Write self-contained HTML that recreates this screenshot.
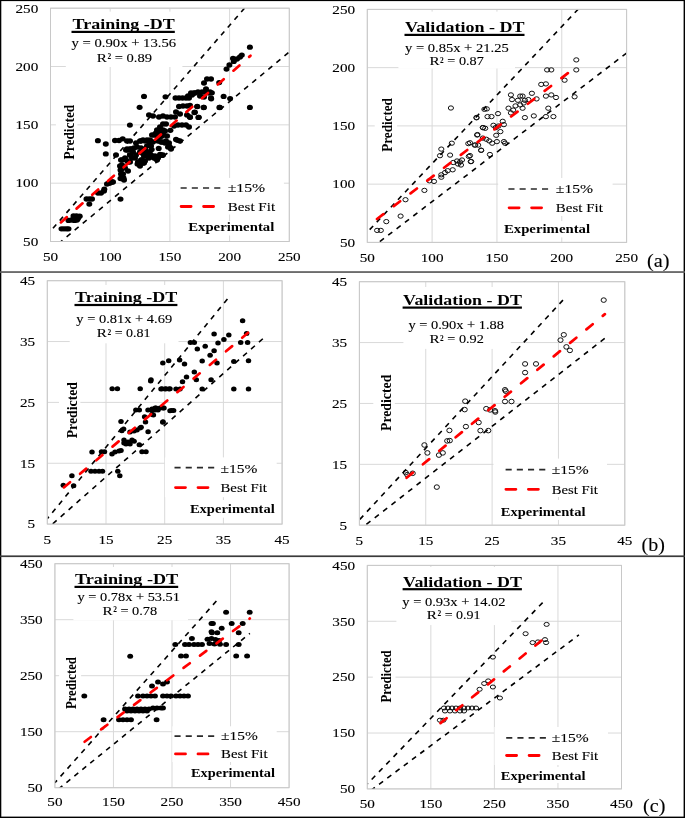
<!DOCTYPE html>
<html><head><meta charset="utf-8"><title>DT scatter</title>
<style>html,body{margin:0;padding:0;background:#fff;width:685px;height:818px;overflow:hidden} svg{display:block;will-change:transform}</style>
</head><body>
<svg width="685" height="818" viewBox="0 0 685 818" font-family='"Liberation Serif", serif'>
<rect x="0" y="0" width="685" height="818" fill="#fff"/>
<defs>
<clipPath id="clipaL"><rect x="50.5" y="8.2" width="238.8" height="233.3"/></clipPath>
<clipPath id="clipaR"><rect x="367.3" y="9.4" width="259.3" height="233.0"/></clipPath>
<clipPath id="clipbL"><rect x="47.3" y="280.7" width="234.8" height="243.40000000000003"/></clipPath>
<clipPath id="clipbR"><rect x="359.4" y="281.7" width="265.4" height="243.50000000000006"/></clipPath>
<clipPath id="clipcL"><rect x="54.9" y="563.7" width="234.20000000000002" height="224.0"/></clipPath>
<clipPath id="clipcR"><rect x="367.3" y="565.4" width="254.2" height="223.5"/></clipPath>
</defs>
<line x1="50.50" y1="8.2" x2="50.50" y2="241.5" stroke="#d9d9d9" stroke-width="1"/>
<line x1="110.20" y1="8.2" x2="110.20" y2="241.5" stroke="#d9d9d9" stroke-width="1"/>
<line x1="169.90" y1="8.2" x2="169.90" y2="241.5" stroke="#d9d9d9" stroke-width="1"/>
<line x1="229.60" y1="8.2" x2="229.60" y2="241.5" stroke="#d9d9d9" stroke-width="1"/>
<line x1="289.30" y1="8.2" x2="289.30" y2="241.5" stroke="#d9d9d9" stroke-width="1"/>
<line x1="50.5" y1="241.50" x2="289.3" y2="241.50" stroke="#d9d9d9" stroke-width="1"/>
<line x1="50.5" y1="183.18" x2="289.3" y2="183.18" stroke="#d9d9d9" stroke-width="1"/>
<line x1="50.5" y1="124.85" x2="289.3" y2="124.85" stroke="#d9d9d9" stroke-width="1"/>
<line x1="50.5" y1="66.53" x2="289.3" y2="66.53" stroke="#d9d9d9" stroke-width="1"/>
<line x1="50.5" y1="8.20" x2="289.3" y2="8.20" stroke="#d9d9d9" stroke-width="1"/>
<rect x="65.8" y="11.6" width="116.60000000000001" height="55.4" fill="#fff"/>
<rect x="55.9" y="100" width="21.500000000000007" height="63" fill="#fff"/>
<rect x="170.6" y="177.9" width="113.29999999999998" height="36.599999999999994" fill="#fff"/>
<rect x="185" y="221" width="95" height="14.5" fill="#fff"/>
<g clip-path="url(#clipaL)">
<ellipse cx="61.5" cy="228.8" rx="3.0" ry="2.65" fill="#000"/>
<ellipse cx="64" cy="228.8" rx="3.0" ry="2.65" fill="#000"/>
<ellipse cx="66.5" cy="228.8" rx="3.0" ry="2.65" fill="#000"/>
<ellipse cx="68.5" cy="228.8" rx="3.0" ry="2.65" fill="#000"/>
<ellipse cx="68.5" cy="220.4" rx="3.0" ry="2.65" fill="#000"/>
<ellipse cx="71.5" cy="220" rx="3.0" ry="2.65" fill="#000"/>
<ellipse cx="74.5" cy="220.4" rx="3.0" ry="2.65" fill="#000"/>
<ellipse cx="77" cy="220" rx="3.0" ry="2.65" fill="#000"/>
<ellipse cx="73.5" cy="216" rx="3.0" ry="2.65" fill="#000"/>
<ellipse cx="76.5" cy="216" rx="3.0" ry="2.65" fill="#000"/>
<ellipse cx="79.7" cy="216.2" rx="3.0" ry="2.65" fill="#000"/>
<ellipse cx="78" cy="218.5" rx="3.0" ry="2.65" fill="#000"/>
<ellipse cx="86.5" cy="199" rx="3.0" ry="2.65" fill="#000"/>
<ellipse cx="89.5" cy="199" rx="3.0" ry="2.65" fill="#000"/>
<ellipse cx="92" cy="199" rx="3.0" ry="2.65" fill="#000"/>
<ellipse cx="89.3" cy="204.1" rx="3.0" ry="2.65" fill="#000"/>
<ellipse cx="98" cy="193" rx="3.0" ry="2.65" fill="#000"/>
<ellipse cx="101" cy="193" rx="3.0" ry="2.65" fill="#000"/>
<ellipse cx="104" cy="191" rx="3.0" ry="2.65" fill="#000"/>
<ellipse cx="104.3" cy="189.2" rx="3.0" ry="2.65" fill="#000"/>
<ellipse cx="107" cy="184" rx="3.0" ry="2.65" fill="#000"/>
<ellipse cx="110" cy="183" rx="3.0" ry="2.65" fill="#000"/>
<ellipse cx="113" cy="182" rx="3.0" ry="2.65" fill="#000"/>
<ellipse cx="109" cy="183" rx="3.0" ry="2.65" fill="#000"/>
<ellipse cx="112" cy="182" rx="3.0" ry="2.65" fill="#000"/>
<ellipse cx="120.5" cy="199.1" rx="3.0" ry="2.65" fill="#000"/>
<ellipse cx="120.5" cy="178.5" rx="3.0" ry="2.65" fill="#000"/>
<ellipse cx="123.5" cy="178" rx="3.0" ry="2.65" fill="#000"/>
<ellipse cx="120" cy="166" rx="3.0" ry="2.65" fill="#000"/>
<ellipse cx="120.5" cy="170" rx="3.0" ry="2.65" fill="#000"/>
<ellipse cx="121" cy="174" rx="3.0" ry="2.65" fill="#000"/>
<ellipse cx="121" cy="160" rx="3.0" ry="2.65" fill="#000"/>
<ellipse cx="122" cy="165" rx="3.0" ry="2.65" fill="#000"/>
<ellipse cx="121" cy="170" rx="3.0" ry="2.65" fill="#000"/>
<ellipse cx="123" cy="174" rx="3.0" ry="2.65" fill="#000"/>
<ellipse cx="124" cy="180" rx="3.0" ry="2.65" fill="#000"/>
<ellipse cx="122" cy="160" rx="3.0" ry="2.65" fill="#000"/>
<ellipse cx="125" cy="158" rx="3.0" ry="2.65" fill="#000"/>
<ellipse cx="128" cy="162" rx="3.0" ry="2.65" fill="#000"/>
<ellipse cx="127.5" cy="150" rx="3.0" ry="2.65" fill="#000"/>
<ellipse cx="130" cy="155" rx="3.0" ry="2.65" fill="#000"/>
<ellipse cx="126" cy="150" rx="3.0" ry="2.65" fill="#000"/>
<ellipse cx="130" cy="149" rx="3.0" ry="2.65" fill="#000"/>
<ellipse cx="134" cy="148" rx="3.0" ry="2.65" fill="#000"/>
<ellipse cx="135" cy="158" rx="3.0" ry="2.65" fill="#000"/>
<ellipse cx="138" cy="163" rx="3.0" ry="2.65" fill="#000"/>
<ellipse cx="142" cy="160" rx="3.0" ry="2.65" fill="#000"/>
<ellipse cx="144" cy="163" rx="3.0" ry="2.65" fill="#000"/>
<ellipse cx="137.5" cy="164" rx="3.0" ry="2.65" fill="#000"/>
<ellipse cx="136" cy="143" rx="3.0" ry="2.65" fill="#000"/>
<ellipse cx="140" cy="141" rx="3.0" ry="2.65" fill="#000"/>
<ellipse cx="143" cy="140" rx="3.0" ry="2.65" fill="#000"/>
<ellipse cx="147" cy="140" rx="3.0" ry="2.65" fill="#000"/>
<ellipse cx="150" cy="140" rx="3.0" ry="2.65" fill="#000"/>
<ellipse cx="148" cy="152" rx="3.0" ry="2.65" fill="#000"/>
<ellipse cx="151" cy="155" rx="3.0" ry="2.65" fill="#000"/>
<ellipse cx="155" cy="156" rx="3.0" ry="2.65" fill="#000"/>
<ellipse cx="158" cy="158" rx="3.0" ry="2.65" fill="#000"/>
<ellipse cx="149" cy="158" rx="3.0" ry="2.65" fill="#000"/>
<ellipse cx="160" cy="154.5" rx="3.0" ry="2.65" fill="#000"/>
<ellipse cx="163" cy="155" rx="3.0" ry="2.65" fill="#000"/>
<ellipse cx="97.9" cy="140.7" rx="3.0" ry="2.65" fill="#000"/>
<ellipse cx="105.8" cy="144" rx="3.0" ry="2.65" fill="#000"/>
<ellipse cx="105.8" cy="153.9" rx="3.0" ry="2.65" fill="#000"/>
<ellipse cx="116" cy="155" rx="3.0" ry="2.65" fill="#000"/>
<ellipse cx="129.9" cy="125.1" rx="3.0" ry="2.65" fill="#000"/>
<ellipse cx="139.6" cy="107.3" rx="3.0" ry="2.65" fill="#000"/>
<ellipse cx="144.0" cy="96.4" rx="3.0" ry="2.65" fill="#000"/>
<ellipse cx="165.5" cy="96.8" rx="3.0" ry="2.65" fill="#000"/>
<ellipse cx="115" cy="140.5" rx="3.0" ry="2.65" fill="#000"/>
<ellipse cx="119" cy="140.5" rx="3.0" ry="2.65" fill="#000"/>
<ellipse cx="122.7" cy="138.8" rx="3.0" ry="2.65" fill="#000"/>
<ellipse cx="127" cy="141" rx="3.0" ry="2.65" fill="#000"/>
<ellipse cx="130" cy="141" rx="3.0" ry="2.65" fill="#000"/>
<ellipse cx="149" cy="115" rx="3.0" ry="2.65" fill="#000"/>
<ellipse cx="153" cy="116" rx="3.0" ry="2.65" fill="#000"/>
<ellipse cx="159" cy="117" rx="3.0" ry="2.65" fill="#000"/>
<ellipse cx="163" cy="116" rx="3.0" ry="2.65" fill="#000"/>
<ellipse cx="167" cy="117" rx="3.0" ry="2.65" fill="#000"/>
<ellipse cx="171" cy="117" rx="3.0" ry="2.65" fill="#000"/>
<ellipse cx="175" cy="117" rx="3.0" ry="2.65" fill="#000"/>
<ellipse cx="175.5" cy="98" rx="3.0" ry="2.65" fill="#000"/>
<ellipse cx="179" cy="98" rx="3.0" ry="2.65" fill="#000"/>
<ellipse cx="182.5" cy="98" rx="3.0" ry="2.65" fill="#000"/>
<ellipse cx="186" cy="98" rx="3.0" ry="2.65" fill="#000"/>
<ellipse cx="189" cy="98" rx="3.0" ry="2.65" fill="#000"/>
<ellipse cx="188" cy="96" rx="3.0" ry="2.65" fill="#000"/>
<ellipse cx="192" cy="95" rx="3.0" ry="2.65" fill="#000"/>
<ellipse cx="194" cy="93" rx="3.0" ry="2.65" fill="#000"/>
<ellipse cx="198" cy="92" rx="3.0" ry="2.65" fill="#000"/>
<ellipse cx="202" cy="92" rx="3.0" ry="2.65" fill="#000"/>
<ellipse cx="206" cy="92" rx="3.0" ry="2.65" fill="#000"/>
<ellipse cx="210" cy="92" rx="3.0" ry="2.65" fill="#000"/>
<ellipse cx="211.2" cy="98.8" rx="3.0" ry="2.65" fill="#000"/>
<ellipse cx="219.4" cy="107.5" rx="3.0" ry="2.65" fill="#000"/>
<ellipse cx="179" cy="106.5" rx="3.0" ry="2.65" fill="#000"/>
<ellipse cx="183" cy="106" rx="3.0" ry="2.65" fill="#000"/>
<ellipse cx="187" cy="106" rx="3.0" ry="2.65" fill="#000"/>
<ellipse cx="190" cy="105.5" rx="3.0" ry="2.65" fill="#000"/>
<ellipse cx="197.2" cy="106.4" rx="3.0" ry="2.65" fill="#000"/>
<ellipse cx="203.6" cy="107.5" rx="3.0" ry="2.65" fill="#000"/>
<ellipse cx="194.9" cy="112.2" rx="3.0" ry="2.65" fill="#000"/>
<ellipse cx="198.4" cy="117.4" rx="3.0" ry="2.65" fill="#000"/>
<ellipse cx="176" cy="112" rx="3.0" ry="2.65" fill="#000"/>
<ellipse cx="180" cy="114" rx="3.0" ry="2.65" fill="#000"/>
<ellipse cx="187" cy="115" rx="3.0" ry="2.65" fill="#000"/>
<ellipse cx="190" cy="117" rx="3.0" ry="2.65" fill="#000"/>
<ellipse cx="157" cy="130" rx="3.0" ry="2.65" fill="#000"/>
<ellipse cx="160" cy="127" rx="3.0" ry="2.65" fill="#000"/>
<ellipse cx="163" cy="124" rx="3.0" ry="2.65" fill="#000"/>
<ellipse cx="166" cy="124" rx="3.0" ry="2.65" fill="#000"/>
<ellipse cx="160" cy="132" rx="3.0" ry="2.65" fill="#000"/>
<ellipse cx="156" cy="133" rx="3.0" ry="2.65" fill="#000"/>
<ellipse cx="163" cy="130" rx="3.0" ry="2.65" fill="#000"/>
<ellipse cx="174" cy="126" rx="3.0" ry="2.65" fill="#000"/>
<ellipse cx="178" cy="125" rx="3.0" ry="2.65" fill="#000"/>
<ellipse cx="182" cy="125" rx="3.0" ry="2.65" fill="#000"/>
<ellipse cx="186" cy="125" rx="3.0" ry="2.65" fill="#000"/>
<ellipse cx="189" cy="127" rx="3.0" ry="2.65" fill="#000"/>
<ellipse cx="170.4" cy="130.3" rx="3.0" ry="2.65" fill="#000"/>
<ellipse cx="152" cy="135" rx="3.0" ry="2.65" fill="#000"/>
<ellipse cx="156" cy="135" rx="3.0" ry="2.65" fill="#000"/>
<ellipse cx="154" cy="135" rx="3.0" ry="2.65" fill="#000"/>
<ellipse cx="158" cy="137" rx="3.0" ry="2.65" fill="#000"/>
<ellipse cx="162" cy="136" rx="3.0" ry="2.65" fill="#000"/>
<ellipse cx="141" cy="141" rx="3.0" ry="2.65" fill="#000"/>
<ellipse cx="145" cy="141" rx="3.0" ry="2.65" fill="#000"/>
<ellipse cx="149" cy="142" rx="3.0" ry="2.65" fill="#000"/>
<ellipse cx="153" cy="142" rx="3.0" ry="2.65" fill="#000"/>
<ellipse cx="158" cy="141" rx="3.0" ry="2.65" fill="#000"/>
<ellipse cx="162" cy="142" rx="3.0" ry="2.65" fill="#000"/>
<ellipse cx="166" cy="141" rx="3.0" ry="2.65" fill="#000"/>
<ellipse cx="169" cy="143" rx="3.0" ry="2.65" fill="#000"/>
<ellipse cx="161" cy="142" rx="3.0" ry="2.65" fill="#000"/>
<ellipse cx="165" cy="143" rx="3.0" ry="2.65" fill="#000"/>
<ellipse cx="169" cy="146" rx="3.0" ry="2.65" fill="#000"/>
<ellipse cx="171" cy="149" rx="3.0" ry="2.65" fill="#000"/>
<ellipse cx="176" cy="139.5" rx="3.0" ry="2.65" fill="#000"/>
<ellipse cx="180" cy="141" rx="3.0" ry="2.65" fill="#000"/>
<ellipse cx="177.7" cy="140.3" rx="3.0" ry="2.65" fill="#000"/>
<ellipse cx="168" cy="147" rx="3.0" ry="2.65" fill="#000"/>
<ellipse cx="171" cy="148" rx="3.0" ry="2.65" fill="#000"/>
<ellipse cx="158.7" cy="148.4" rx="3.0" ry="2.65" fill="#000"/>
<ellipse cx="151.7" cy="149.6" rx="3.0" ry="2.65" fill="#000"/>
<ellipse cx="142" cy="153" rx="3.0" ry="2.65" fill="#000"/>
<ellipse cx="146" cy="154" rx="3.0" ry="2.65" fill="#000"/>
<ellipse cx="148" cy="157" rx="3.0" ry="2.65" fill="#000"/>
<ellipse cx="155" cy="158" rx="3.0" ry="2.65" fill="#000"/>
<ellipse cx="161" cy="155" rx="3.0" ry="2.65" fill="#000"/>
<ellipse cx="158" cy="157" rx="3.0" ry="2.65" fill="#000"/>
<ellipse cx="141" cy="160" rx="3.0" ry="2.65" fill="#000"/>
<ellipse cx="145" cy="161" rx="3.0" ry="2.65" fill="#000"/>
<ellipse cx="162" cy="155.4" rx="3.0" ry="2.65" fill="#000"/>
<ellipse cx="127" cy="149" rx="3.0" ry="2.65" fill="#000"/>
<ellipse cx="131" cy="149" rx="3.0" ry="2.65" fill="#000"/>
<ellipse cx="129.9" cy="154.9" rx="3.0" ry="2.65" fill="#000"/>
<ellipse cx="137" cy="147" rx="3.0" ry="2.65" fill="#000"/>
<ellipse cx="141" cy="148" rx="3.0" ry="2.65" fill="#000"/>
<ellipse cx="145" cy="149" rx="3.0" ry="2.65" fill="#000"/>
<ellipse cx="147" cy="152" rx="3.0" ry="2.65" fill="#000"/>
<ellipse cx="150" cy="154" rx="3.0" ry="2.65" fill="#000"/>
<ellipse cx="150" cy="156" rx="3.0" ry="2.65" fill="#000"/>
<ellipse cx="154" cy="158" rx="3.0" ry="2.65" fill="#000"/>
<ellipse cx="157" cy="160" rx="3.0" ry="2.65" fill="#000"/>
<ellipse cx="156.7" cy="158.4" rx="3.0" ry="2.65" fill="#000"/>
<ellipse cx="138" cy="162" rx="3.0" ry="2.65" fill="#000"/>
<ellipse cx="143" cy="163" rx="3.0" ry="2.65" fill="#000"/>
<ellipse cx="140" cy="166" rx="3.0" ry="2.65" fill="#000"/>
<ellipse cx="126" cy="160" rx="3.0" ry="2.65" fill="#000"/>
<ellipse cx="130" cy="162" rx="3.0" ry="2.65" fill="#000"/>
<ellipse cx="125" cy="168" rx="3.0" ry="2.65" fill="#000"/>
<ellipse cx="128" cy="171" rx="3.0" ry="2.65" fill="#000"/>
<ellipse cx="163" cy="134" rx="3.0" ry="2.65" fill="#000"/>
<ellipse cx="167" cy="136" rx="3.0" ry="2.65" fill="#000"/>
<ellipse cx="165" cy="131" rx="3.0" ry="2.65" fill="#000"/>
<ellipse cx="160" cy="137" rx="3.0" ry="2.65" fill="#000"/>
<ellipse cx="133" cy="152" rx="3.0" ry="2.65" fill="#000"/>
<ellipse cx="136" cy="155" rx="3.0" ry="2.65" fill="#000"/>
<ellipse cx="140" cy="152" rx="3.0" ry="2.65" fill="#000"/>
<ellipse cx="144" cy="156" rx="3.0" ry="2.65" fill="#000"/>
<ellipse cx="132" cy="158" rx="3.0" ry="2.65" fill="#000"/>
<ellipse cx="147" cy="146" rx="3.0" ry="2.65" fill="#000"/>
<ellipse cx="151" cy="146" rx="3.0" ry="2.65" fill="#000"/>
<ellipse cx="249.9" cy="47.2" rx="3.0" ry="2.65" fill="#000"/>
<ellipse cx="241.8" cy="55.1" rx="3.0" ry="2.65" fill="#000"/>
<ellipse cx="233" cy="58.5" rx="3.0" ry="2.65" fill="#000"/>
<ellipse cx="237" cy="59" rx="3.0" ry="2.65" fill="#000"/>
<ellipse cx="240" cy="57" rx="3.0" ry="2.65" fill="#000"/>
<ellipse cx="229.4" cy="65" rx="3.0" ry="2.65" fill="#000"/>
<ellipse cx="226.5" cy="69.1" rx="3.0" ry="2.65" fill="#000"/>
<ellipse cx="233.8" cy="61.4" rx="3.0" ry="2.65" fill="#000"/>
<ellipse cx="204" cy="83" rx="3.0" ry="2.65" fill="#000"/>
<ellipse cx="207" cy="79" rx="3.0" ry="2.65" fill="#000"/>
<ellipse cx="211" cy="79" rx="3.0" ry="2.65" fill="#000"/>
<ellipse cx="219.2" cy="82.6" rx="3.0" ry="2.65" fill="#000"/>
<ellipse cx="206" cy="89" rx="3.0" ry="2.65" fill="#000"/>
<ellipse cx="209" cy="93" rx="3.0" ry="2.65" fill="#000"/>
<ellipse cx="211" cy="98" rx="3.0" ry="2.65" fill="#000"/>
<ellipse cx="191" cy="93" rx="3.0" ry="2.65" fill="#000"/>
<ellipse cx="195" cy="93" rx="3.0" ry="2.65" fill="#000"/>
<ellipse cx="200" cy="96" rx="3.0" ry="2.65" fill="#000"/>
<ellipse cx="204" cy="97" rx="3.0" ry="2.65" fill="#000"/>
<ellipse cx="211.9" cy="92.8" rx="3.0" ry="2.65" fill="#000"/>
<ellipse cx="223.6" cy="96.4" rx="3.0" ry="2.65" fill="#000"/>
<ellipse cx="230.1" cy="98.6" rx="3.0" ry="2.65" fill="#000"/>
<ellipse cx="249.9" cy="107.4" rx="3.0" ry="2.65" fill="#000"/>
<ellipse cx="219.9" cy="107.4" rx="3.0" ry="2.65" fill="#000"/>
<ellipse cx="197.3" cy="106.6" rx="3.0" ry="2.65" fill="#000"/>
<ellipse cx="203.9" cy="107.4" rx="3.0" ry="2.65" fill="#000"/>
<ellipse cx="194.4" cy="112.5" rx="3.0" ry="2.65" fill="#000"/>
<ellipse cx="198.8" cy="117.3" rx="3.0" ry="2.65" fill="#000"/>
<ellipse cx="190" cy="117.3" rx="3.0" ry="2.65" fill="#000"/>
<line x1="50.50" y1="231.21" x2="289.30" y2="-43.26" stroke="#000" stroke-width="1.6" stroke-dasharray="5.02 5.22" stroke-dashoffset="6.44"/>
<line x1="50.50" y1="250.25" x2="289.30" y2="51.94" stroke="#000" stroke-width="1.6" stroke-dasharray="5.14 5.35" stroke-dashoffset="0.06"/>
<line x1="59.57" y1="223.54" x2="250.50" y2="55.66" stroke="#ff0000" stroke-width="2.7" stroke-linecap="round" stroke-dasharray="8.00 12.89" stroke-dashoffset="19.18"/>
</g>
<rect x="50.5" y="8.2" width="238.8" height="233.3" fill="none" stroke="#c8c8c8" stroke-width="1"/>
<text x="42.90" y="260.80" font-size="12.9" font-weight="400" textLength="15.20" lengthAdjust="spacingAndGlyphs" stroke="#000" stroke-width="0.12">50</text>
<text x="23.10" y="245.80" font-size="12.9" font-weight="400" textLength="15.20" lengthAdjust="spacingAndGlyphs" stroke="#000" stroke-width="0.12">50</text>
<text x="98.80" y="260.80" font-size="12.9" font-weight="400" textLength="22.80" lengthAdjust="spacingAndGlyphs" stroke="#000" stroke-width="0.12">100</text>
<text x="15.50" y="187.48" font-size="12.9" font-weight="400" textLength="22.80" lengthAdjust="spacingAndGlyphs" stroke="#000" stroke-width="0.12">100</text>
<text x="158.50" y="260.80" font-size="12.9" font-weight="400" textLength="22.80" lengthAdjust="spacingAndGlyphs" stroke="#000" stroke-width="0.12">150</text>
<text x="15.50" y="129.15" font-size="12.9" font-weight="400" textLength="22.80" lengthAdjust="spacingAndGlyphs" stroke="#000" stroke-width="0.12">150</text>
<text x="218.20" y="260.80" font-size="12.9" font-weight="400" textLength="22.80" lengthAdjust="spacingAndGlyphs" stroke="#000" stroke-width="0.12">200</text>
<text x="15.50" y="70.83" font-size="12.9" font-weight="400" textLength="22.80" lengthAdjust="spacingAndGlyphs" stroke="#000" stroke-width="0.12">200</text>
<text x="277.90" y="260.80" font-size="12.9" font-weight="400" textLength="22.80" lengthAdjust="spacingAndGlyphs" stroke="#000" stroke-width="0.12">250</text>
<text x="15.50" y="12.50" font-size="12.9" font-weight="400" textLength="22.80" lengthAdjust="spacingAndGlyphs" stroke="#000" stroke-width="0.12">250</text>
<line x1="367.30" y1="9.4" x2="367.30" y2="242.4" stroke="#d9d9d9" stroke-width="1"/>
<line x1="432.12" y1="9.4" x2="432.12" y2="242.4" stroke="#d9d9d9" stroke-width="1"/>
<line x1="496.95" y1="9.4" x2="496.95" y2="242.4" stroke="#d9d9d9" stroke-width="1"/>
<line x1="561.77" y1="9.4" x2="561.77" y2="242.4" stroke="#d9d9d9" stroke-width="1"/>
<line x1="626.60" y1="9.4" x2="626.60" y2="242.4" stroke="#d9d9d9" stroke-width="1"/>
<line x1="367.3" y1="242.40" x2="626.6" y2="242.40" stroke="#d9d9d9" stroke-width="1"/>
<line x1="367.3" y1="184.15" x2="626.6" y2="184.15" stroke="#d9d9d9" stroke-width="1"/>
<line x1="367.3" y1="125.90" x2="626.6" y2="125.90" stroke="#d9d9d9" stroke-width="1"/>
<line x1="367.3" y1="67.65" x2="626.6" y2="67.65" stroke="#d9d9d9" stroke-width="1"/>
<line x1="367.3" y1="9.40" x2="626.6" y2="9.40" stroke="#d9d9d9" stroke-width="1"/>
<rect x="398.4" y="11.6" width="116.60000000000002" height="56.9" fill="#fff"/>
<rect x="374.7" y="95" width="22.400000000000034" height="60" fill="#fff"/>
<rect x="498.2" y="178" width="114.40000000000003" height="38" fill="#fff"/>
<rect x="500" y="221" width="95" height="16.400000000000006" fill="#fff"/>
<g clip-path="url(#clipaR)">
<ellipse cx="450.9" cy="108" rx="2.6" ry="2.15" fill="none" stroke="#111" stroke-width="1"/>
<ellipse cx="476.5" cy="117.5" rx="2.6" ry="2.15" fill="none" stroke="#111" stroke-width="1"/>
<ellipse cx="484.4" cy="109.3" rx="2.6" ry="2.15" fill="none" stroke="#111" stroke-width="1"/>
<ellipse cx="483" cy="127.6" rx="2.6" ry="2.15" fill="none" stroke="#111" stroke-width="1"/>
<ellipse cx="477.1" cy="135" rx="2.6" ry="2.15" fill="none" stroke="#111" stroke-width="1"/>
<ellipse cx="451.8" cy="143.2" rx="2.6" ry="2.15" fill="none" stroke="#111" stroke-width="1"/>
<ellipse cx="441.3" cy="149.1" rx="2.6" ry="2.15" fill="none" stroke="#111" stroke-width="1"/>
<ellipse cx="440" cy="155.7" rx="2.6" ry="2.15" fill="none" stroke="#111" stroke-width="1"/>
<ellipse cx="450.1" cy="155.1" rx="2.6" ry="2.15" fill="none" stroke="#111" stroke-width="1"/>
<ellipse cx="468.3" cy="143.6" rx="2.6" ry="2.15" fill="none" stroke="#111" stroke-width="1"/>
<ellipse cx="475.3" cy="145" rx="2.6" ry="2.15" fill="none" stroke="#111" stroke-width="1"/>
<ellipse cx="481.1" cy="150.2" rx="2.6" ry="2.15" fill="none" stroke="#111" stroke-width="1"/>
<ellipse cx="468.8" cy="156.4" rx="2.6" ry="2.15" fill="none" stroke="#111" stroke-width="1"/>
<ellipse cx="470.7" cy="161.6" rx="2.6" ry="2.15" fill="none" stroke="#111" stroke-width="1"/>
<ellipse cx="457" cy="161" rx="2.6" ry="2.15" fill="none" stroke="#111" stroke-width="1"/>
<ellipse cx="460" cy="162" rx="2.6" ry="2.15" fill="none" stroke="#111" stroke-width="1"/>
<ellipse cx="462" cy="160" rx="2.6" ry="2.15" fill="none" stroke="#111" stroke-width="1"/>
<ellipse cx="458" cy="164" rx="2.6" ry="2.15" fill="none" stroke="#111" stroke-width="1"/>
<ellipse cx="461" cy="165" rx="2.6" ry="2.15" fill="none" stroke="#111" stroke-width="1"/>
<ellipse cx="453.2" cy="162.5" rx="2.6" ry="2.15" fill="none" stroke="#111" stroke-width="1"/>
<ellipse cx="452.7" cy="169.8" rx="2.6" ry="2.15" fill="none" stroke="#111" stroke-width="1"/>
<ellipse cx="447.7" cy="170.7" rx="2.6" ry="2.15" fill="none" stroke="#111" stroke-width="1"/>
<ellipse cx="445" cy="172.6" rx="2.6" ry="2.15" fill="none" stroke="#111" stroke-width="1"/>
<ellipse cx="441.3" cy="174.8" rx="2.6" ry="2.15" fill="none" stroke="#111" stroke-width="1"/>
<ellipse cx="441.3" cy="177.2" rx="2.6" ry="2.15" fill="none" stroke="#111" stroke-width="1"/>
<ellipse cx="434" cy="181.4" rx="2.6" ry="2.15" fill="none" stroke="#111" stroke-width="1"/>
<ellipse cx="429.4" cy="180.8" rx="2.6" ry="2.15" fill="none" stroke="#111" stroke-width="1"/>
<ellipse cx="424.4" cy="190.4" rx="2.6" ry="2.15" fill="none" stroke="#111" stroke-width="1"/>
<ellipse cx="405.5" cy="199.7" rx="2.6" ry="2.15" fill="none" stroke="#111" stroke-width="1"/>
<ellipse cx="400.6" cy="216.1" rx="2.6" ry="2.15" fill="none" stroke="#111" stroke-width="1"/>
<ellipse cx="386.3" cy="221.6" rx="2.6" ry="2.15" fill="none" stroke="#111" stroke-width="1"/>
<ellipse cx="377.1" cy="230.4" rx="2.6" ry="2.15" fill="none" stroke="#111" stroke-width="1"/>
<ellipse cx="380.8" cy="230.4" rx="2.6" ry="2.15" fill="none" stroke="#111" stroke-width="1"/>
<ellipse cx="576.3" cy="59.9" rx="2.6" ry="2.15" fill="none" stroke="#111" stroke-width="1"/>
<ellipse cx="576.3" cy="69.9" rx="2.6" ry="2.15" fill="none" stroke="#111" stroke-width="1"/>
<ellipse cx="547.1" cy="69.9" rx="2.6" ry="2.15" fill="none" stroke="#111" stroke-width="1"/>
<ellipse cx="551.3" cy="69.9" rx="2.6" ry="2.15" fill="none" stroke="#111" stroke-width="1"/>
<ellipse cx="564.6" cy="80.2" rx="2.6" ry="2.15" fill="none" stroke="#111" stroke-width="1"/>
<ellipse cx="541.2" cy="84.4" rx="2.6" ry="2.15" fill="none" stroke="#111" stroke-width="1"/>
<ellipse cx="545.9" cy="83.9" rx="2.6" ry="2.15" fill="none" stroke="#111" stroke-width="1"/>
<ellipse cx="574.6" cy="96.8" rx="2.6" ry="2.15" fill="none" stroke="#111" stroke-width="1"/>
<ellipse cx="545.9" cy="96.1" rx="2.6" ry="2.15" fill="none" stroke="#111" stroke-width="1"/>
<ellipse cx="551.3" cy="94.9" rx="2.6" ry="2.15" fill="none" stroke="#111" stroke-width="1"/>
<ellipse cx="556" cy="97.5" rx="2.6" ry="2.15" fill="none" stroke="#111" stroke-width="1"/>
<ellipse cx="531.9" cy="93.3" rx="2.6" ry="2.15" fill="none" stroke="#111" stroke-width="1"/>
<ellipse cx="536.6" cy="98.9" rx="2.6" ry="2.15" fill="none" stroke="#111" stroke-width="1"/>
<ellipse cx="510.9" cy="94.9" rx="2.6" ry="2.15" fill="none" stroke="#111" stroke-width="1"/>
<ellipse cx="520.2" cy="96.1" rx="2.6" ry="2.15" fill="none" stroke="#111" stroke-width="1"/>
<ellipse cx="522.6" cy="96.1" rx="2.6" ry="2.15" fill="none" stroke="#111" stroke-width="1"/>
<ellipse cx="512" cy="99.6" rx="2.6" ry="2.15" fill="none" stroke="#111" stroke-width="1"/>
<ellipse cx="517.9" cy="100.3" rx="2.6" ry="2.15" fill="none" stroke="#111" stroke-width="1"/>
<ellipse cx="524.9" cy="100.3" rx="2.6" ry="2.15" fill="none" stroke="#111" stroke-width="1"/>
<ellipse cx="528.4" cy="99.6" rx="2.6" ry="2.15" fill="none" stroke="#111" stroke-width="1"/>
<ellipse cx="523.7" cy="103" rx="2.6" ry="2.15" fill="none" stroke="#111" stroke-width="1"/>
<ellipse cx="515.5" cy="105.9" rx="2.6" ry="2.15" fill="none" stroke="#111" stroke-width="1"/>
<ellipse cx="520.2" cy="104.9" rx="2.6" ry="2.15" fill="none" stroke="#111" stroke-width="1"/>
<ellipse cx="508.5" cy="108.2" rx="2.6" ry="2.15" fill="none" stroke="#111" stroke-width="1"/>
<ellipse cx="522.6" cy="108.2" rx="2.6" ry="2.15" fill="none" stroke="#111" stroke-width="1"/>
<ellipse cx="513.2" cy="110.1" rx="2.6" ry="2.15" fill="none" stroke="#111" stroke-width="1"/>
<ellipse cx="510.9" cy="112.9" rx="2.6" ry="2.15" fill="none" stroke="#111" stroke-width="1"/>
<ellipse cx="548.3" cy="108.2" rx="2.6" ry="2.15" fill="none" stroke="#111" stroke-width="1"/>
<ellipse cx="545.9" cy="116.6" rx="2.6" ry="2.15" fill="none" stroke="#111" stroke-width="1"/>
<ellipse cx="553.4" cy="116.6" rx="2.6" ry="2.15" fill="none" stroke="#111" stroke-width="1"/>
<ellipse cx="533.8" cy="115.9" rx="2.6" ry="2.15" fill="none" stroke="#111" stroke-width="1"/>
<ellipse cx="524.9" cy="117.6" rx="2.6" ry="2.15" fill="none" stroke="#111" stroke-width="1"/>
<ellipse cx="498" cy="113.6" rx="2.6" ry="2.15" fill="none" stroke="#111" stroke-width="1"/>
<ellipse cx="486.8" cy="108.9" rx="2.6" ry="2.15" fill="none" stroke="#111" stroke-width="1"/>
<ellipse cx="487.5" cy="116.6" rx="2.6" ry="2.15" fill="none" stroke="#111" stroke-width="1"/>
<ellipse cx="491.5" cy="116.6" rx="2.6" ry="2.15" fill="none" stroke="#111" stroke-width="1"/>
<ellipse cx="476.5" cy="117.8" rx="2.6" ry="2.15" fill="none" stroke="#111" stroke-width="1"/>
<ellipse cx="502.7" cy="121.3" rx="2.6" ry="2.15" fill="none" stroke="#111" stroke-width="1"/>
<ellipse cx="503.9" cy="124.6" rx="2.6" ry="2.15" fill="none" stroke="#111" stroke-width="1"/>
<ellipse cx="493.4" cy="125.3" rx="2.6" ry="2.15" fill="none" stroke="#111" stroke-width="1"/>
<ellipse cx="495.7" cy="127.6" rx="2.6" ry="2.15" fill="none" stroke="#111" stroke-width="1"/>
<ellipse cx="498.5" cy="126" rx="2.6" ry="2.15" fill="none" stroke="#111" stroke-width="1"/>
<ellipse cx="482.8" cy="127.6" rx="2.6" ry="2.15" fill="none" stroke="#111" stroke-width="1"/>
<ellipse cx="485.2" cy="128.3" rx="2.6" ry="2.15" fill="none" stroke="#111" stroke-width="1"/>
<ellipse cx="500.4" cy="131.6" rx="2.6" ry="2.15" fill="none" stroke="#111" stroke-width="1"/>
<ellipse cx="496.2" cy="135.3" rx="2.6" ry="2.15" fill="none" stroke="#111" stroke-width="1"/>
<ellipse cx="477.5" cy="134.6" rx="2.6" ry="2.15" fill="none" stroke="#111" stroke-width="1"/>
<ellipse cx="482.8" cy="138.1" rx="2.6" ry="2.15" fill="none" stroke="#111" stroke-width="1"/>
<ellipse cx="486.4" cy="139.3" rx="2.6" ry="2.15" fill="none" stroke="#111" stroke-width="1"/>
<ellipse cx="489.2" cy="140.9" rx="2.6" ry="2.15" fill="none" stroke="#111" stroke-width="1"/>
<ellipse cx="492.2" cy="143.2" rx="2.6" ry="2.15" fill="none" stroke="#111" stroke-width="1"/>
<ellipse cx="496.9" cy="141.6" rx="2.6" ry="2.15" fill="none" stroke="#111" stroke-width="1"/>
<ellipse cx="503.9" cy="141.6" rx="2.6" ry="2.15" fill="none" stroke="#111" stroke-width="1"/>
<ellipse cx="505" cy="143.2" rx="2.6" ry="2.15" fill="none" stroke="#111" stroke-width="1"/>
<ellipse cx="474.7" cy="145.1" rx="2.6" ry="2.15" fill="none" stroke="#111" stroke-width="1"/>
<ellipse cx="478.2" cy="145.1" rx="2.6" ry="2.15" fill="none" stroke="#111" stroke-width="1"/>
<ellipse cx="481.2" cy="150.3" rx="2.6" ry="2.15" fill="none" stroke="#111" stroke-width="1"/>
<ellipse cx="470" cy="142.8" rx="2.6" ry="2.15" fill="none" stroke="#111" stroke-width="1"/>
<ellipse cx="489.9" cy="154.5" rx="2.6" ry="2.15" fill="none" stroke="#111" stroke-width="1"/>
<ellipse cx="470" cy="155.6" rx="2.6" ry="2.15" fill="none" stroke="#111" stroke-width="1"/>
<ellipse cx="471.2" cy="161.5" rx="2.6" ry="2.15" fill="none" stroke="#111" stroke-width="1"/>
<line x1="367.30" y1="232.12" x2="626.60" y2="-42.00" stroke="#000" stroke-width="1.6" stroke-dasharray="5.04 5.25" stroke-dashoffset="6.83"/>
<line x1="367.30" y1="251.14" x2="626.60" y2="53.09" stroke="#000" stroke-width="1.6" stroke-dasharray="5.16 5.37" stroke-dashoffset="5.29"/>
<line x1="376.12" y1="219.65" x2="575.13" y2="67.64" stroke="#ff0000" stroke-width="2.7" stroke-linecap="round" stroke-dasharray="8.08 13.02" stroke-dashoffset="20.00"/>
</g>
<rect x="367.3" y="9.4" width="259.3" height="233.0" fill="none" stroke="#c8c8c8" stroke-width="1"/>
<text x="359.70" y="262.00" font-size="12.9" font-weight="400" textLength="15.20" lengthAdjust="spacingAndGlyphs" stroke="#000" stroke-width="0.12">50</text>
<text x="339.90" y="246.70" font-size="12.9" font-weight="400" textLength="15.20" lengthAdjust="spacingAndGlyphs" stroke="#000" stroke-width="0.12">50</text>
<text x="420.73" y="262.00" font-size="12.9" font-weight="400" textLength="22.80" lengthAdjust="spacingAndGlyphs" stroke="#000" stroke-width="0.12">100</text>
<text x="332.30" y="188.45" font-size="12.9" font-weight="400" textLength="22.80" lengthAdjust="spacingAndGlyphs" stroke="#000" stroke-width="0.12">100</text>
<text x="485.55" y="262.00" font-size="12.9" font-weight="400" textLength="22.80" lengthAdjust="spacingAndGlyphs" stroke="#000" stroke-width="0.12">150</text>
<text x="332.30" y="130.20" font-size="12.9" font-weight="400" textLength="22.80" lengthAdjust="spacingAndGlyphs" stroke="#000" stroke-width="0.12">150</text>
<text x="550.38" y="262.00" font-size="12.9" font-weight="400" textLength="22.80" lengthAdjust="spacingAndGlyphs" stroke="#000" stroke-width="0.12">200</text>
<text x="332.30" y="71.95" font-size="12.9" font-weight="400" textLength="22.80" lengthAdjust="spacingAndGlyphs" stroke="#000" stroke-width="0.12">200</text>
<text x="615.20" y="262.00" font-size="12.9" font-weight="400" textLength="22.80" lengthAdjust="spacingAndGlyphs" stroke="#000" stroke-width="0.12">250</text>
<text x="332.30" y="13.70" font-size="12.9" font-weight="400" textLength="22.80" lengthAdjust="spacingAndGlyphs" stroke="#000" stroke-width="0.12">250</text>
<line x1="47.30" y1="280.7" x2="47.30" y2="524.1" stroke="#d9d9d9" stroke-width="1"/>
<line x1="106.00" y1="280.7" x2="106.00" y2="524.1" stroke="#d9d9d9" stroke-width="1"/>
<line x1="164.70" y1="280.7" x2="164.70" y2="524.1" stroke="#d9d9d9" stroke-width="1"/>
<line x1="223.40" y1="280.7" x2="223.40" y2="524.1" stroke="#d9d9d9" stroke-width="1"/>
<line x1="282.10" y1="280.7" x2="282.10" y2="524.1" stroke="#d9d9d9" stroke-width="1"/>
<line x1="47.3" y1="524.10" x2="282.1" y2="524.10" stroke="#d9d9d9" stroke-width="1"/>
<line x1="47.3" y1="463.25" x2="282.1" y2="463.25" stroke="#d9d9d9" stroke-width="1"/>
<line x1="47.3" y1="402.40" x2="282.1" y2="402.40" stroke="#d9d9d9" stroke-width="1"/>
<line x1="47.3" y1="341.55" x2="282.1" y2="341.55" stroke="#d9d9d9" stroke-width="1"/>
<line x1="47.3" y1="280.70" x2="282.1" y2="280.70" stroke="#d9d9d9" stroke-width="1"/>
<rect x="69.7" y="285" width="108.8" height="58.30000000000001" fill="#fff"/>
<rect x="59" y="378" width="21.400000000000006" height="64" fill="#fff"/>
<rect x="164.9" y="457.4" width="111.79999999999998" height="39.80000000000001" fill="#fff"/>
<rect x="185" y="500" width="95" height="17.700000000000045" fill="#fff"/>
<g clip-path="url(#clipbL)">
<ellipse cx="63.3" cy="485.2" rx="2.75" ry="2.5" fill="#000"/>
<ellipse cx="73.6" cy="485.7" rx="2.75" ry="2.5" fill="#000"/>
<ellipse cx="71.9" cy="475.8" rx="2.75" ry="2.5" fill="#000"/>
<ellipse cx="91" cy="471.3" rx="2.75" ry="2.5" fill="#000"/>
<ellipse cx="95" cy="471.3" rx="2.75" ry="2.5" fill="#000"/>
<ellipse cx="99" cy="471.3" rx="2.75" ry="2.5" fill="#000"/>
<ellipse cx="102.5" cy="471.3" rx="2.75" ry="2.5" fill="#000"/>
<ellipse cx="117.8" cy="471.3" rx="2.75" ry="2.5" fill="#000"/>
<ellipse cx="119.8" cy="475.8" rx="2.75" ry="2.5" fill="#000"/>
<ellipse cx="92" cy="451.9" rx="2.75" ry="2.5" fill="#000"/>
<ellipse cx="101.5" cy="451.7" rx="2.75" ry="2.5" fill="#000"/>
<ellipse cx="104.5" cy="451.7" rx="2.75" ry="2.5" fill="#000"/>
<ellipse cx="112" cy="454" rx="2.75" ry="2.5" fill="#000"/>
<ellipse cx="115" cy="452" rx="2.75" ry="2.5" fill="#000"/>
<ellipse cx="119" cy="451" rx="2.75" ry="2.5" fill="#000"/>
<ellipse cx="121" cy="450.5" rx="2.75" ry="2.5" fill="#000"/>
<ellipse cx="124" cy="443" rx="2.75" ry="2.5" fill="#000"/>
<ellipse cx="142" cy="451.8" rx="2.75" ry="2.5" fill="#000"/>
<ellipse cx="146" cy="451.8" rx="2.75" ry="2.5" fill="#000"/>
<ellipse cx="124" cy="440" rx="2.75" ry="2.5" fill="#000"/>
<ellipse cx="128" cy="442" rx="2.75" ry="2.5" fill="#000"/>
<ellipse cx="132" cy="440" rx="2.75" ry="2.5" fill="#000"/>
<ellipse cx="126" cy="444" rx="2.75" ry="2.5" fill="#000"/>
<ellipse cx="130" cy="444" rx="2.75" ry="2.5" fill="#000"/>
<ellipse cx="121.8" cy="430.8" rx="2.75" ry="2.5" fill="#000"/>
<ellipse cx="130" cy="432" rx="2.75" ry="2.5" fill="#000"/>
<ellipse cx="134" cy="431" rx="2.75" ry="2.5" fill="#000"/>
<ellipse cx="137" cy="430" rx="2.75" ry="2.5" fill="#000"/>
<ellipse cx="140" cy="428" rx="2.75" ry="2.5" fill="#000"/>
<ellipse cx="139.3" cy="444.8" rx="2.75" ry="2.5" fill="#000"/>
<ellipse cx="134.1" cy="441.3" rx="2.75" ry="2.5" fill="#000"/>
<ellipse cx="148.1" cy="431.7" rx="2.75" ry="2.5" fill="#000"/>
<ellipse cx="141.1" cy="427.3" rx="2.75" ry="2.5" fill="#000"/>
<ellipse cx="145.5" cy="422" rx="2.75" ry="2.5" fill="#000"/>
<ellipse cx="121" cy="421.5" rx="2.75" ry="2.5" fill="#000"/>
<ellipse cx="123.6" cy="429" rx="2.75" ry="2.5" fill="#000"/>
<ellipse cx="135.8" cy="410.1" rx="2.75" ry="2.5" fill="#000"/>
<ellipse cx="139.3" cy="410.1" rx="2.75" ry="2.5" fill="#000"/>
<ellipse cx="148" cy="410" rx="2.75" ry="2.5" fill="#000"/>
<ellipse cx="152" cy="410" rx="2.75" ry="2.5" fill="#000"/>
<ellipse cx="155" cy="410" rx="2.75" ry="2.5" fill="#000"/>
<ellipse cx="158" cy="410" rx="2.75" ry="2.5" fill="#000"/>
<ellipse cx="155.1" cy="408" rx="2.75" ry="2.5" fill="#000"/>
<ellipse cx="163" cy="408" rx="2.75" ry="2.5" fill="#000"/>
<ellipse cx="153.4" cy="415" rx="2.75" ry="2.5" fill="#000"/>
<ellipse cx="144.6" cy="416.8" rx="2.75" ry="2.5" fill="#000"/>
<ellipse cx="163" cy="421.7" rx="2.75" ry="2.5" fill="#000"/>
<ellipse cx="170" cy="410.7" rx="2.75" ry="2.5" fill="#000"/>
<ellipse cx="112.2" cy="388.8" rx="2.75" ry="2.5" fill="#000"/>
<ellipse cx="117.4" cy="388.8" rx="2.75" ry="2.5" fill="#000"/>
<ellipse cx="140.2" cy="388.8" rx="2.75" ry="2.5" fill="#000"/>
<ellipse cx="162" cy="388.8" rx="2.75" ry="2.5" fill="#000"/>
<ellipse cx="166" cy="388.8" rx="2.75" ry="2.5" fill="#000"/>
<ellipse cx="170" cy="388.8" rx="2.75" ry="2.5" fill="#000"/>
<ellipse cx="150.7" cy="380.9" rx="2.75" ry="2.5" fill="#000"/>
<ellipse cx="242.6" cy="320.7" rx="2.75" ry="2.5" fill="#000"/>
<ellipse cx="246.6" cy="333.5" rx="2.75" ry="2.5" fill="#000"/>
<ellipse cx="228.8" cy="335.1" rx="2.75" ry="2.5" fill="#000"/>
<ellipse cx="223.9" cy="339.4" rx="2.75" ry="2.5" fill="#000"/>
<ellipse cx="214.1" cy="333.9" rx="2.75" ry="2.5" fill="#000"/>
<ellipse cx="218" cy="343" rx="2.75" ry="2.5" fill="#000"/>
<ellipse cx="240.7" cy="342.4" rx="2.75" ry="2.5" fill="#000"/>
<ellipse cx="247.6" cy="342.4" rx="2.75" ry="2.5" fill="#000"/>
<ellipse cx="190.4" cy="342.4" rx="2.75" ry="2.5" fill="#000"/>
<ellipse cx="194.3" cy="342.4" rx="2.75" ry="2.5" fill="#000"/>
<ellipse cx="197.3" cy="348.9" rx="2.75" ry="2.5" fill="#000"/>
<ellipse cx="205.2" cy="346.3" rx="2.75" ry="2.5" fill="#000"/>
<ellipse cx="214.1" cy="350.8" rx="2.75" ry="2.5" fill="#000"/>
<ellipse cx="210.1" cy="355.2" rx="2.75" ry="2.5" fill="#000"/>
<ellipse cx="202.2" cy="361.1" rx="2.75" ry="2.5" fill="#000"/>
<ellipse cx="217" cy="363.1" rx="2.75" ry="2.5" fill="#000"/>
<ellipse cx="233.8" cy="361.5" rx="2.75" ry="2.5" fill="#000"/>
<ellipse cx="248.5" cy="360.7" rx="2.75" ry="2.5" fill="#000"/>
<ellipse cx="162.8" cy="363.1" rx="2.75" ry="2.5" fill="#000"/>
<ellipse cx="168.7" cy="360.7" rx="2.75" ry="2.5" fill="#000"/>
<ellipse cx="179.6" cy="360.1" rx="2.75" ry="2.5" fill="#000"/>
<ellipse cx="184.5" cy="364" rx="2.75" ry="2.5" fill="#000"/>
<ellipse cx="151" cy="379.8" rx="2.75" ry="2.5" fill="#000"/>
<ellipse cx="161" cy="389" rx="2.75" ry="2.5" fill="#000"/>
<ellipse cx="165" cy="389" rx="2.75" ry="2.5" fill="#000"/>
<ellipse cx="169" cy="389" rx="2.75" ry="2.5" fill="#000"/>
<ellipse cx="176" cy="389" rx="2.75" ry="2.5" fill="#000"/>
<ellipse cx="180" cy="389" rx="2.75" ry="2.5" fill="#000"/>
<ellipse cx="182.5" cy="381.8" rx="2.75" ry="2.5" fill="#000"/>
<ellipse cx="186.5" cy="376.9" rx="2.75" ry="2.5" fill="#000"/>
<ellipse cx="194.3" cy="371.9" rx="2.75" ry="2.5" fill="#000"/>
<ellipse cx="196.3" cy="379.8" rx="2.75" ry="2.5" fill="#000"/>
<ellipse cx="202.2" cy="389.1" rx="2.75" ry="2.5" fill="#000"/>
<ellipse cx="211.1" cy="379.8" rx="2.75" ry="2.5" fill="#000"/>
<ellipse cx="233.8" cy="389.1" rx="2.75" ry="2.5" fill="#000"/>
<ellipse cx="248.5" cy="389.1" rx="2.75" ry="2.5" fill="#000"/>
<ellipse cx="152" cy="409" rx="2.75" ry="2.5" fill="#000"/>
<ellipse cx="156" cy="408" rx="2.75" ry="2.5" fill="#000"/>
<ellipse cx="160" cy="408" rx="2.75" ry="2.5" fill="#000"/>
<ellipse cx="164" cy="408" rx="2.75" ry="2.5" fill="#000"/>
<ellipse cx="171.7" cy="410.4" rx="2.75" ry="2.5" fill="#000"/>
<ellipse cx="173.6" cy="410.4" rx="2.75" ry="2.5" fill="#000"/>
<ellipse cx="162.8" cy="422.2" rx="2.75" ry="2.5" fill="#000"/>
<ellipse cx="152" cy="414.3" rx="2.75" ry="2.5" fill="#000"/>
<line x1="47.30" y1="518.73" x2="227.51" y2="298.95" stroke="#000" stroke-width="1.6" stroke-dasharray="5.11 5.32" stroke-dashoffset="2.65"/>
<line x1="47.30" y1="528.66" x2="263.32" y2="338.32" stroke="#000" stroke-width="1.6" stroke-dasharray="5.18 5.39" stroke-dashoffset="3.31"/>
<line x1="63.15" y1="488.03" x2="248.05" y2="332.78" stroke="#ff0000" stroke-width="2.7" stroke-linecap="round" stroke-dasharray="8.11 13.06" stroke-dashoffset="20.26"/>
</g>
<rect x="47.3" y="280.7" width="234.8" height="243.40000000000003" fill="none" stroke="#c8c8c8" stroke-width="1"/>
<text x="43.50" y="544.00" font-size="12.9" font-weight="400" textLength="7.60" lengthAdjust="spacingAndGlyphs" stroke="#000" stroke-width="0.12">5</text>
<text x="27.50" y="528.40" font-size="12.9" font-weight="400" textLength="7.60" lengthAdjust="spacingAndGlyphs" stroke="#000" stroke-width="0.12">5</text>
<text x="98.40" y="544.00" font-size="12.9" font-weight="400" textLength="15.20" lengthAdjust="spacingAndGlyphs" stroke="#000" stroke-width="0.12">15</text>
<text x="19.90" y="467.55" font-size="12.9" font-weight="400" textLength="15.20" lengthAdjust="spacingAndGlyphs" stroke="#000" stroke-width="0.12">15</text>
<text x="157.10" y="544.00" font-size="12.9" font-weight="400" textLength="15.20" lengthAdjust="spacingAndGlyphs" stroke="#000" stroke-width="0.12">25</text>
<text x="19.90" y="406.70" font-size="12.9" font-weight="400" textLength="15.20" lengthAdjust="spacingAndGlyphs" stroke="#000" stroke-width="0.12">25</text>
<text x="215.80" y="544.00" font-size="12.9" font-weight="400" textLength="15.20" lengthAdjust="spacingAndGlyphs" stroke="#000" stroke-width="0.12">35</text>
<text x="19.90" y="345.85" font-size="12.9" font-weight="400" textLength="15.20" lengthAdjust="spacingAndGlyphs" stroke="#000" stroke-width="0.12">35</text>
<text x="274.50" y="544.00" font-size="12.9" font-weight="400" textLength="15.20" lengthAdjust="spacingAndGlyphs" stroke="#000" stroke-width="0.12">45</text>
<text x="19.90" y="285.00" font-size="12.9" font-weight="400" textLength="15.20" lengthAdjust="spacingAndGlyphs" stroke="#000" stroke-width="0.12">45</text>
<line x1="359.40" y1="281.7" x2="359.40" y2="525.2" stroke="#d9d9d9" stroke-width="1"/>
<line x1="425.75" y1="281.7" x2="425.75" y2="525.2" stroke="#d9d9d9" stroke-width="1"/>
<line x1="492.10" y1="281.7" x2="492.10" y2="525.2" stroke="#d9d9d9" stroke-width="1"/>
<line x1="558.45" y1="281.7" x2="558.45" y2="525.2" stroke="#d9d9d9" stroke-width="1"/>
<line x1="624.80" y1="281.7" x2="624.80" y2="525.2" stroke="#d9d9d9" stroke-width="1"/>
<line x1="359.4" y1="525.20" x2="624.8" y2="525.20" stroke="#d9d9d9" stroke-width="1"/>
<line x1="359.4" y1="464.33" x2="624.8" y2="464.33" stroke="#d9d9d9" stroke-width="1"/>
<line x1="359.4" y1="403.45" x2="624.8" y2="403.45" stroke="#d9d9d9" stroke-width="1"/>
<line x1="359.4" y1="342.57" x2="624.8" y2="342.57" stroke="#d9d9d9" stroke-width="1"/>
<line x1="359.4" y1="281.70" x2="624.8" y2="281.70" stroke="#d9d9d9" stroke-width="1"/>
<rect x="403.4" y="287" width="107.40000000000003" height="61.89999999999998" fill="#fff"/>
<rect x="373.3" y="371" width="21.5" height="64" fill="#fff"/>
<rect x="493.5" y="458.6" width="113.5" height="38.39999999999998" fill="#fff"/>
<rect x="497" y="500" width="95" height="19.899999999999977" fill="#fff"/>
<g clip-path="url(#clipbR)">
<ellipse cx="525.1" cy="363.9" rx="2.6" ry="2.3" fill="none" stroke="#111" stroke-width="1"/>
<ellipse cx="536" cy="363.9" rx="2.6" ry="2.3" fill="none" stroke="#111" stroke-width="1"/>
<ellipse cx="525.1" cy="372.6" rx="2.6" ry="2.3" fill="none" stroke="#111" stroke-width="1"/>
<ellipse cx="505" cy="389.8" rx="2.6" ry="2.3" fill="none" stroke="#111" stroke-width="1"/>
<ellipse cx="505.8" cy="391.2" rx="2.6" ry="2.3" fill="none" stroke="#111" stroke-width="1"/>
<ellipse cx="505" cy="401.5" rx="2.6" ry="2.3" fill="none" stroke="#111" stroke-width="1"/>
<ellipse cx="511.5" cy="401.5" rx="2.6" ry="2.3" fill="none" stroke="#111" stroke-width="1"/>
<ellipse cx="465.2" cy="401.2" rx="2.6" ry="2.3" fill="none" stroke="#111" stroke-width="1"/>
<ellipse cx="464.7" cy="409.6" rx="2.6" ry="2.3" fill="none" stroke="#111" stroke-width="1"/>
<ellipse cx="486.2" cy="408.7" rx="2.6" ry="2.3" fill="none" stroke="#111" stroke-width="1"/>
<ellipse cx="490.1" cy="409.9" rx="2.6" ry="2.3" fill="none" stroke="#111" stroke-width="1"/>
<ellipse cx="495" cy="410.8" rx="2.6" ry="2.3" fill="none" stroke="#111" stroke-width="1"/>
<ellipse cx="495.3" cy="412" rx="2.6" ry="2.3" fill="none" stroke="#111" stroke-width="1"/>
<ellipse cx="478.7" cy="422.5" rx="2.6" ry="2.3" fill="none" stroke="#111" stroke-width="1"/>
<ellipse cx="465.9" cy="426.6" rx="2.6" ry="2.3" fill="none" stroke="#111" stroke-width="1"/>
<ellipse cx="480.4" cy="430.6" rx="2.6" ry="2.3" fill="none" stroke="#111" stroke-width="1"/>
<ellipse cx="488.3" cy="430.6" rx="2.6" ry="2.3" fill="none" stroke="#111" stroke-width="1"/>
<ellipse cx="449.4" cy="430.4" rx="2.6" ry="2.3" fill="none" stroke="#111" stroke-width="1"/>
<ellipse cx="447.2" cy="440.9" rx="2.6" ry="2.3" fill="none" stroke="#111" stroke-width="1"/>
<ellipse cx="449.8" cy="440.6" rx="2.6" ry="2.3" fill="none" stroke="#111" stroke-width="1"/>
<ellipse cx="424.4" cy="445" rx="2.6" ry="2.3" fill="none" stroke="#111" stroke-width="1"/>
<ellipse cx="427.4" cy="452.9" rx="2.6" ry="2.3" fill="none" stroke="#111" stroke-width="1"/>
<ellipse cx="438.9" cy="455.1" rx="2.6" ry="2.3" fill="none" stroke="#111" stroke-width="1"/>
<ellipse cx="442.8" cy="452.9" rx="2.6" ry="2.3" fill="none" stroke="#111" stroke-width="1"/>
<ellipse cx="436.8" cy="487.1" rx="2.6" ry="2.3" fill="none" stroke="#111" stroke-width="1"/>
<ellipse cx="603.7" cy="300.1" rx="2.6" ry="2.3" fill="none" stroke="#111" stroke-width="1"/>
<ellipse cx="563.8" cy="334.8" rx="2.6" ry="2.3" fill="none" stroke="#111" stroke-width="1"/>
<ellipse cx="560.5" cy="340.1" rx="2.6" ry="2.3" fill="none" stroke="#111" stroke-width="1"/>
<ellipse cx="566.4" cy="346.9" rx="2.6" ry="2.3" fill="none" stroke="#111" stroke-width="1"/>
<ellipse cx="569.9" cy="350.4" rx="2.6" ry="2.3" fill="none" stroke="#111" stroke-width="1"/>
<ellipse cx="405.7" cy="472.6" rx="2.6" ry="2.3" fill="none" stroke="#111" stroke-width="1"/>
<ellipse cx="407.2" cy="474.7" rx="2.6" ry="2.3" fill="none" stroke="#111" stroke-width="1"/>
<ellipse cx="412.7" cy="473.3" rx="2.6" ry="2.3" fill="none" stroke="#111" stroke-width="1"/>
<line x1="359.40" y1="519.83" x2="563.76" y2="299.25" stroke="#000" stroke-width="1.6" stroke-dasharray="5.14 5.35" stroke-dashoffset="9.84"/>
<line x1="359.40" y1="529.77" x2="604.89" y2="338.31" stroke="#000" stroke-width="1.6" stroke-dasharray="5.20 5.41" stroke-dashoffset="1.79"/>
<line x1="405.84" y1="478.45" x2="604.89" y2="314.09" stroke="#ff0000" stroke-width="2.7" stroke-linecap="round" stroke-dasharray="8.12 13.08" stroke-dashoffset="20.21"/>
</g>
<rect x="359.4" y="281.7" width="265.4" height="243.50000000000006" fill="none" stroke="#c8c8c8" stroke-width="1"/>
<text x="355.60" y="545.40" font-size="12.9" font-weight="400" textLength="7.60" lengthAdjust="spacingAndGlyphs" stroke="#000" stroke-width="0.12">5</text>
<text x="339.60" y="529.50" font-size="12.9" font-weight="400" textLength="7.60" lengthAdjust="spacingAndGlyphs" stroke="#000" stroke-width="0.12">5</text>
<text x="418.15" y="545.40" font-size="12.9" font-weight="400" textLength="15.20" lengthAdjust="spacingAndGlyphs" stroke="#000" stroke-width="0.12">15</text>
<text x="332.00" y="468.63" font-size="12.9" font-weight="400" textLength="15.20" lengthAdjust="spacingAndGlyphs" stroke="#000" stroke-width="0.12">15</text>
<text x="484.50" y="545.40" font-size="12.9" font-weight="400" textLength="15.20" lengthAdjust="spacingAndGlyphs" stroke="#000" stroke-width="0.12">25</text>
<text x="332.00" y="407.75" font-size="12.9" font-weight="400" textLength="15.20" lengthAdjust="spacingAndGlyphs" stroke="#000" stroke-width="0.12">25</text>
<text x="550.85" y="545.40" font-size="12.9" font-weight="400" textLength="15.20" lengthAdjust="spacingAndGlyphs" stroke="#000" stroke-width="0.12">35</text>
<text x="332.00" y="346.88" font-size="12.9" font-weight="400" textLength="15.20" lengthAdjust="spacingAndGlyphs" stroke="#000" stroke-width="0.12">35</text>
<text x="617.20" y="545.40" font-size="12.9" font-weight="400" textLength="15.20" lengthAdjust="spacingAndGlyphs" stroke="#000" stroke-width="0.12">45</text>
<text x="332.00" y="286.00" font-size="12.9" font-weight="400" textLength="15.20" lengthAdjust="spacingAndGlyphs" stroke="#000" stroke-width="0.12">45</text>
<line x1="54.90" y1="563.7" x2="54.90" y2="787.7" stroke="#d9d9d9" stroke-width="1"/>
<line x1="113.45" y1="563.7" x2="113.45" y2="787.7" stroke="#d9d9d9" stroke-width="1"/>
<line x1="172.00" y1="563.7" x2="172.00" y2="787.7" stroke="#d9d9d9" stroke-width="1"/>
<line x1="230.55" y1="563.7" x2="230.55" y2="787.7" stroke="#d9d9d9" stroke-width="1"/>
<line x1="289.10" y1="563.7" x2="289.10" y2="787.7" stroke="#d9d9d9" stroke-width="1"/>
<line x1="54.9" y1="787.70" x2="289.1" y2="787.70" stroke="#d9d9d9" stroke-width="1"/>
<line x1="54.9" y1="731.70" x2="289.1" y2="731.70" stroke="#d9d9d9" stroke-width="1"/>
<line x1="54.9" y1="675.70" x2="289.1" y2="675.70" stroke="#d9d9d9" stroke-width="1"/>
<line x1="54.9" y1="619.70" x2="289.1" y2="619.70" stroke="#d9d9d9" stroke-width="1"/>
<line x1="54.9" y1="563.70" x2="289.1" y2="563.70" stroke="#d9d9d9" stroke-width="1"/>
<rect x="73.4" y="567" width="114.6" height="53.299999999999955" fill="#fff"/>
<rect x="59.1" y="653" width="21.999999999999993" height="60" fill="#fff"/>
<rect x="172.4" y="726.3" width="104.29999999999998" height="35.700000000000045" fill="#fff"/>
<rect x="185" y="765" width="95" height="14.5" fill="#fff"/>
<g clip-path="url(#clipcL)">
<ellipse cx="84.3" cy="696.1" rx="2.95" ry="2.5" fill="#000"/>
<ellipse cx="103.6" cy="719.7" rx="2.95" ry="2.5" fill="#000"/>
<ellipse cx="130.2" cy="656.2" rx="2.95" ry="2.5" fill="#000"/>
<ellipse cx="119" cy="719.7" rx="2.95" ry="2.5" fill="#000"/>
<ellipse cx="123" cy="719.7" rx="2.95" ry="2.5" fill="#000"/>
<ellipse cx="127" cy="719.7" rx="2.95" ry="2.5" fill="#000"/>
<ellipse cx="131" cy="719.7" rx="2.95" ry="2.5" fill="#000"/>
<ellipse cx="156.6" cy="719.7" rx="2.95" ry="2.5" fill="#000"/>
<ellipse cx="125" cy="709" rx="2.95" ry="2.5" fill="#000"/>
<ellipse cx="129" cy="709" rx="2.95" ry="2.5" fill="#000"/>
<ellipse cx="133" cy="709" rx="2.95" ry="2.5" fill="#000"/>
<ellipse cx="137" cy="709" rx="2.95" ry="2.5" fill="#000"/>
<ellipse cx="141" cy="709" rx="2.95" ry="2.5" fill="#000"/>
<ellipse cx="145" cy="709" rx="2.95" ry="2.5" fill="#000"/>
<ellipse cx="149" cy="709" rx="2.95" ry="2.5" fill="#000"/>
<ellipse cx="153" cy="708" rx="2.95" ry="2.5" fill="#000"/>
<ellipse cx="157" cy="708" rx="2.95" ry="2.5" fill="#000"/>
<ellipse cx="161" cy="708" rx="2.95" ry="2.5" fill="#000"/>
<ellipse cx="163" cy="708" rx="2.95" ry="2.5" fill="#000"/>
<ellipse cx="127" cy="711" rx="2.95" ry="2.5" fill="#000"/>
<ellipse cx="131" cy="711" rx="2.95" ry="2.5" fill="#000"/>
<ellipse cx="135" cy="711" rx="2.95" ry="2.5" fill="#000"/>
<ellipse cx="139" cy="711" rx="2.95" ry="2.5" fill="#000"/>
<ellipse cx="143" cy="711" rx="2.95" ry="2.5" fill="#000"/>
<ellipse cx="147" cy="711" rx="2.95" ry="2.5" fill="#000"/>
<ellipse cx="138" cy="695.9" rx="2.95" ry="2.5" fill="#000"/>
<ellipse cx="143" cy="695.9" rx="2.95" ry="2.5" fill="#000"/>
<ellipse cx="147" cy="695.9" rx="2.95" ry="2.5" fill="#000"/>
<ellipse cx="151" cy="695.9" rx="2.95" ry="2.5" fill="#000"/>
<ellipse cx="155" cy="695.9" rx="2.95" ry="2.5" fill="#000"/>
<ellipse cx="163" cy="695.9" rx="2.95" ry="2.5" fill="#000"/>
<ellipse cx="167" cy="695.9" rx="2.95" ry="2.5" fill="#000"/>
<ellipse cx="171" cy="695.9" rx="2.95" ry="2.5" fill="#000"/>
<ellipse cx="176" cy="695.9" rx="2.95" ry="2.5" fill="#000"/>
<ellipse cx="180" cy="695.9" rx="2.95" ry="2.5" fill="#000"/>
<ellipse cx="184" cy="695.9" rx="2.95" ry="2.5" fill="#000"/>
<ellipse cx="188" cy="695.9" rx="2.95" ry="2.5" fill="#000"/>
<ellipse cx="152" cy="685.9" rx="2.95" ry="2.5" fill="#000"/>
<ellipse cx="158" cy="682" rx="2.95" ry="2.5" fill="#000"/>
<ellipse cx="163" cy="684" rx="2.95" ry="2.5" fill="#000"/>
<ellipse cx="167" cy="682" rx="2.95" ry="2.5" fill="#000"/>
<ellipse cx="181" cy="656" rx="2.95" ry="2.5" fill="#000"/>
<ellipse cx="186" cy="656" rx="2.95" ry="2.5" fill="#000"/>
<ellipse cx="175.3" cy="644.6" rx="2.95" ry="2.5" fill="#000"/>
<ellipse cx="185" cy="644.6" rx="2.95" ry="2.5" fill="#000"/>
<ellipse cx="189" cy="644.6" rx="2.95" ry="2.5" fill="#000"/>
<ellipse cx="194" cy="644.6" rx="2.95" ry="2.5" fill="#000"/>
<ellipse cx="198" cy="644.6" rx="2.95" ry="2.5" fill="#000"/>
<ellipse cx="202" cy="644.6" rx="2.95" ry="2.5" fill="#000"/>
<ellipse cx="191.9" cy="638.5" rx="2.95" ry="2.5" fill="#000"/>
<ellipse cx="207.5" cy="639.2" rx="2.95" ry="2.5" fill="#000"/>
<ellipse cx="211.5" cy="638.6" rx="2.95" ry="2.5" fill="#000"/>
<ellipse cx="215.5" cy="639.4" rx="2.95" ry="2.5" fill="#000"/>
<ellipse cx="219" cy="640.5" rx="2.95" ry="2.5" fill="#000"/>
<ellipse cx="209.5" cy="643.5" rx="2.95" ry="2.5" fill="#000"/>
<ellipse cx="214.5" cy="644" rx="2.95" ry="2.5" fill="#000"/>
<ellipse cx="220" cy="644.2" rx="2.95" ry="2.5" fill="#000"/>
<ellipse cx="226.1" cy="644.6" rx="2.95" ry="2.5" fill="#000"/>
<ellipse cx="238.7" cy="644.6" rx="2.95" ry="2.5" fill="#000"/>
<ellipse cx="211.5" cy="623.5" rx="2.95" ry="2.5" fill="#000"/>
<ellipse cx="211.5" cy="631.7" rx="2.95" ry="2.5" fill="#000"/>
<ellipse cx="226.1" cy="612.2" rx="2.95" ry="2.5" fill="#000"/>
<ellipse cx="249.7" cy="612.2" rx="2.95" ry="2.5" fill="#000"/>
<ellipse cx="212.9" cy="623.4" rx="2.95" ry="2.5" fill="#000"/>
<ellipse cx="231.7" cy="623.4" rx="2.95" ry="2.5" fill="#000"/>
<ellipse cx="242.7" cy="623.4" rx="2.95" ry="2.5" fill="#000"/>
<ellipse cx="221.7" cy="628.3" rx="2.95" ry="2.5" fill="#000"/>
<ellipse cx="212" cy="632.7" rx="2.95" ry="2.5" fill="#000"/>
<ellipse cx="217.3" cy="632.7" rx="2.95" ry="2.5" fill="#000"/>
<ellipse cx="238.7" cy="632.7" rx="2.95" ry="2.5" fill="#000"/>
<ellipse cx="236.2" cy="656" rx="2.95" ry="2.5" fill="#000"/>
<ellipse cx="247.1" cy="656" rx="2.95" ry="2.5" fill="#000"/>
<line x1="54.90" y1="782.76" x2="216.50" y2="600.92" stroke="#000" stroke-width="1.6" stroke-dasharray="5.11 5.32" stroke-dashoffset="1.91"/>
<line x1="54.90" y1="791.90" x2="249.87" y2="633.39" stroke="#000" stroke-width="1.6" stroke-dasharray="5.01 5.22" stroke-dashoffset="5.59"/>
<line x1="84.35" y1="741.92" x2="249.87" y2="618.44" stroke="#ff0000" stroke-width="2.7" stroke-linecap="round" stroke-dasharray="7.88 12.69" stroke-dashoffset="20.27"/>
</g>
<rect x="54.9" y="563.7" width="234.20000000000002" height="224.0" fill="none" stroke="#c8c8c8" stroke-width="1"/>
<text x="47.30" y="806.40" font-size="12.9" font-weight="400" textLength="15.20" lengthAdjust="spacingAndGlyphs" stroke="#000" stroke-width="0.12">50</text>
<text x="27.50" y="792.00" font-size="12.9" font-weight="400" textLength="15.20" lengthAdjust="spacingAndGlyphs" stroke="#000" stroke-width="0.12">50</text>
<text x="102.05" y="806.40" font-size="12.9" font-weight="400" textLength="22.80" lengthAdjust="spacingAndGlyphs" stroke="#000" stroke-width="0.12">150</text>
<text x="19.90" y="736.00" font-size="12.9" font-weight="400" textLength="22.80" lengthAdjust="spacingAndGlyphs" stroke="#000" stroke-width="0.12">150</text>
<text x="160.60" y="806.40" font-size="12.9" font-weight="400" textLength="22.80" lengthAdjust="spacingAndGlyphs" stroke="#000" stroke-width="0.12">250</text>
<text x="19.90" y="680.00" font-size="12.9" font-weight="400" textLength="22.80" lengthAdjust="spacingAndGlyphs" stroke="#000" stroke-width="0.12">250</text>
<text x="219.15" y="806.40" font-size="12.9" font-weight="400" textLength="22.80" lengthAdjust="spacingAndGlyphs" stroke="#000" stroke-width="0.12">350</text>
<text x="19.90" y="624.00" font-size="12.9" font-weight="400" textLength="22.80" lengthAdjust="spacingAndGlyphs" stroke="#000" stroke-width="0.12">350</text>
<text x="277.70" y="806.40" font-size="12.9" font-weight="400" textLength="22.80" lengthAdjust="spacingAndGlyphs" stroke="#000" stroke-width="0.12">450</text>
<text x="19.90" y="568.00" font-size="12.9" font-weight="400" textLength="22.80" lengthAdjust="spacingAndGlyphs" stroke="#000" stroke-width="0.12">450</text>
<line x1="367.30" y1="565.4" x2="367.30" y2="788.9" stroke="#d9d9d9" stroke-width="1"/>
<line x1="430.85" y1="565.4" x2="430.85" y2="788.9" stroke="#d9d9d9" stroke-width="1"/>
<line x1="494.40" y1="565.4" x2="494.40" y2="788.9" stroke="#d9d9d9" stroke-width="1"/>
<line x1="557.95" y1="565.4" x2="557.95" y2="788.9" stroke="#d9d9d9" stroke-width="1"/>
<line x1="621.50" y1="565.4" x2="621.50" y2="788.9" stroke="#d9d9d9" stroke-width="1"/>
<line x1="367.3" y1="788.90" x2="621.5" y2="788.90" stroke="#d9d9d9" stroke-width="1"/>
<line x1="367.3" y1="733.02" x2="621.5" y2="733.02" stroke="#d9d9d9" stroke-width="1"/>
<line x1="367.3" y1="677.15" x2="621.5" y2="677.15" stroke="#d9d9d9" stroke-width="1"/>
<line x1="367.3" y1="621.27" x2="621.5" y2="621.27" stroke="#d9d9d9" stroke-width="1"/>
<line x1="367.3" y1="565.40" x2="621.5" y2="565.40" stroke="#d9d9d9" stroke-width="1"/>
<rect x="396.4" y="567" width="114.90000000000003" height="58.10000000000002" fill="#fff"/>
<rect x="372.8" y="646" width="22.69999999999999" height="60" fill="#fff"/>
<rect x="494.5" y="727" width="113.5" height="38" fill="#fff"/>
<rect x="497" y="767" width="95" height="16" fill="#fff"/>
<g clip-path="url(#clipcR)">
<ellipse cx="546.6" cy="624.4" rx="2.6" ry="2.0" fill="none" stroke="#111" stroke-width="1"/>
<ellipse cx="525.6" cy="633.7" rx="2.6" ry="2.0" fill="none" stroke="#111" stroke-width="1"/>
<ellipse cx="532.6" cy="642.6" rx="2.6" ry="2.0" fill="none" stroke="#111" stroke-width="1"/>
<ellipse cx="538" cy="641.9" rx="2.6" ry="2.0" fill="none" stroke="#111" stroke-width="1"/>
<ellipse cx="545" cy="639.6" rx="2.6" ry="2.0" fill="none" stroke="#111" stroke-width="1"/>
<ellipse cx="546.1" cy="642.6" rx="2.6" ry="2.0" fill="none" stroke="#111" stroke-width="1"/>
<ellipse cx="492.9" cy="657.1" rx="2.6" ry="2.0" fill="none" stroke="#111" stroke-width="1"/>
<ellipse cx="484.2" cy="683.5" rx="2.6" ry="2.0" fill="none" stroke="#111" stroke-width="1"/>
<ellipse cx="488.2" cy="680.9" rx="2.6" ry="2.0" fill="none" stroke="#111" stroke-width="1"/>
<ellipse cx="492.9" cy="687" rx="2.6" ry="2.0" fill="none" stroke="#111" stroke-width="1"/>
<ellipse cx="479.6" cy="689.3" rx="2.6" ry="2.0" fill="none" stroke="#111" stroke-width="1"/>
<ellipse cx="499.9" cy="698" rx="2.6" ry="2.0" fill="none" stroke="#111" stroke-width="1"/>
<ellipse cx="444" cy="708" rx="2.6" ry="2.0" fill="none" stroke="#111" stroke-width="1"/>
<ellipse cx="448" cy="708" rx="2.6" ry="2.0" fill="none" stroke="#111" stroke-width="1"/>
<ellipse cx="452" cy="708" rx="2.6" ry="2.0" fill="none" stroke="#111" stroke-width="1"/>
<ellipse cx="456" cy="708" rx="2.6" ry="2.0" fill="none" stroke="#111" stroke-width="1"/>
<ellipse cx="460" cy="708" rx="2.6" ry="2.0" fill="none" stroke="#111" stroke-width="1"/>
<ellipse cx="464" cy="708" rx="2.6" ry="2.0" fill="none" stroke="#111" stroke-width="1"/>
<ellipse cx="468" cy="708" rx="2.6" ry="2.0" fill="none" stroke="#111" stroke-width="1"/>
<ellipse cx="472" cy="708" rx="2.6" ry="2.0" fill="none" stroke="#111" stroke-width="1"/>
<ellipse cx="476" cy="708" rx="2.6" ry="2.0" fill="none" stroke="#111" stroke-width="1"/>
<ellipse cx="445" cy="711" rx="2.6" ry="2.0" fill="none" stroke="#111" stroke-width="1"/>
<ellipse cx="450" cy="711" rx="2.6" ry="2.0" fill="none" stroke="#111" stroke-width="1"/>
<ellipse cx="455" cy="711" rx="2.6" ry="2.0" fill="none" stroke="#111" stroke-width="1"/>
<ellipse cx="460" cy="711" rx="2.6" ry="2.0" fill="none" stroke="#111" stroke-width="1"/>
<ellipse cx="464" cy="711" rx="2.6" ry="2.0" fill="none" stroke="#111" stroke-width="1"/>
<ellipse cx="439.9" cy="720.2" rx="2.6" ry="2.0" fill="none" stroke="#111" stroke-width="1"/>
<ellipse cx="443.4" cy="720.2" rx="2.6" ry="2.0" fill="none" stroke="#111" stroke-width="1"/>
<line x1="367.30" y1="783.97" x2="542.70" y2="602.54" stroke="#000" stroke-width="1.6" stroke-dasharray="5.13 5.34" stroke-dashoffset="4.16"/>
<line x1="367.30" y1="793.09" x2="578.92" y2="634.94" stroke="#000" stroke-width="1.6" stroke-dasharray="5.04 5.25" stroke-dashoffset="5.92"/>
<line x1="439.87" y1="723.68" x2="541.43" y2="640.64" stroke="#ff0000" stroke-width="2.7" stroke-linecap="round" stroke-dasharray="7.83 12.61" stroke-dashoffset="19.63"/>
</g>
<rect x="367.3" y="565.4" width="254.2" height="223.5" fill="none" stroke="#c8c8c8" stroke-width="1"/>
<text x="359.70" y="807.60" font-size="12.9" font-weight="400" textLength="15.20" lengthAdjust="spacingAndGlyphs" stroke="#000" stroke-width="0.12">50</text>
<text x="339.90" y="793.20" font-size="12.9" font-weight="400" textLength="15.20" lengthAdjust="spacingAndGlyphs" stroke="#000" stroke-width="0.12">50</text>
<text x="419.45" y="807.60" font-size="12.9" font-weight="400" textLength="22.80" lengthAdjust="spacingAndGlyphs" stroke="#000" stroke-width="0.12">150</text>
<text x="332.30" y="737.32" font-size="12.9" font-weight="400" textLength="22.80" lengthAdjust="spacingAndGlyphs" stroke="#000" stroke-width="0.12">150</text>
<text x="483.00" y="807.60" font-size="12.9" font-weight="400" textLength="22.80" lengthAdjust="spacingAndGlyphs" stroke="#000" stroke-width="0.12">250</text>
<text x="332.30" y="681.45" font-size="12.9" font-weight="400" textLength="22.80" lengthAdjust="spacingAndGlyphs" stroke="#000" stroke-width="0.12">250</text>
<text x="546.55" y="807.60" font-size="12.9" font-weight="400" textLength="22.80" lengthAdjust="spacingAndGlyphs" stroke="#000" stroke-width="0.12">350</text>
<text x="332.30" y="625.57" font-size="12.9" font-weight="400" textLength="22.80" lengthAdjust="spacingAndGlyphs" stroke="#000" stroke-width="0.12">350</text>
<text x="610.10" y="807.60" font-size="12.9" font-weight="400" textLength="22.80" lengthAdjust="spacingAndGlyphs" stroke="#000" stroke-width="0.12">450</text>
<text x="332.30" y="569.70" font-size="12.9" font-weight="400" textLength="22.80" lengthAdjust="spacingAndGlyphs" stroke="#000" stroke-width="0.12">450</text>
<text x="72.60" y="28.80" font-size="15.5" font-weight="700" textLength="102.20" lengthAdjust="spacingAndGlyphs">Training -DT</text>
<rect x="71.5" y="30.80" width="103.30000000000001" height="2.2" fill="#000"/>
<text x="71.50" y="47.00" font-size="13.5" font-weight="400" textLength="104.60" lengthAdjust="spacingAndGlyphs" stroke="#000" stroke-width="0.12">y = 0.90x + 13.56</text>
<text x="96.80" y="61.50" font-size="13.5" font-weight="400" textLength="10.10" lengthAdjust="spacingAndGlyphs" stroke="#000" stroke-width="0.12">R</text>
<text x="107.50" y="58.90" font-size="7.4" font-weight="700" textLength="3.7" lengthAdjust="spacingAndGlyphs">2</text>
<text x="114.70" y="61.50" font-size="13.5" font-weight="400" textLength="37.30" lengthAdjust="spacingAndGlyphs" stroke="#000" stroke-width="0.12">= 0.89</text>
<text transform="translate(73.50,159.40) rotate(-90)" x="0" y="0" font-size="13.6" font-weight="700" textLength="54.70" lengthAdjust="spacingAndGlyphs">Predicted</text>
<line x1="180.60" y1="188.0" x2="220.30" y2="188.0" stroke="#2a2a2a" stroke-width="1.7" stroke-dasharray="6.1 5.1"/>
<line x1="181.10" y1="206.5" x2="213.60" y2="206.5" stroke="#ff0000" stroke-width="2.8" stroke-linecap="round" stroke-dasharray="10 12.5"/>
<text x="227.70" y="191.90" font-size="13.5" font-weight="400" textLength="37.50" lengthAdjust="spacingAndGlyphs" stroke="#000" stroke-width="0.12">±15%</text>
<text x="227.80" y="210.60" font-size="13.5" font-weight="400" textLength="47.30" lengthAdjust="spacingAndGlyphs" stroke="#000" stroke-width="0.12">Best Fit</text>
<text x="188.20" y="230.80" font-size="13.2" font-weight="700" textLength="86.10" lengthAdjust="spacingAndGlyphs">Experimental</text>
<text x="405.00" y="32.10" font-size="15.5" font-weight="700" textLength="119.50" lengthAdjust="spacingAndGlyphs">Validation - DT</text>
<rect x="404.5" y="33.80" width="120.0" height="2.2" fill="#000"/>
<text x="405.00" y="52.30" font-size="13.5" font-weight="400" textLength="103.70" lengthAdjust="spacingAndGlyphs" stroke="#000" stroke-width="0.12">y = 0.85x + 21.25</text>
<text x="429.40" y="65.40" font-size="13.5" font-weight="400" textLength="10.10" lengthAdjust="spacingAndGlyphs" stroke="#000" stroke-width="0.12">R</text>
<text x="440.10" y="62.80" font-size="7.4" font-weight="700" textLength="3.7" lengthAdjust="spacingAndGlyphs">2</text>
<text x="447.30" y="65.40" font-size="13.5" font-weight="400" textLength="36.50" lengthAdjust="spacingAndGlyphs" stroke="#000" stroke-width="0.12">= 0.87</text>
<text transform="translate(392.10,151.80) rotate(-90)" x="0" y="0" font-size="13.6" font-weight="700" textLength="53.70" lengthAdjust="spacingAndGlyphs">Predicted</text>
<line x1="508.40" y1="189.0" x2="548.10" y2="189.0" stroke="#2a2a2a" stroke-width="1.7" stroke-dasharray="6.1 5.1"/>
<line x1="509.10" y1="207.8" x2="541.60" y2="207.8" stroke="#ff0000" stroke-width="2.8" stroke-linecap="round" stroke-dasharray="10 12.5"/>
<text x="555.80" y="192.90" font-size="13.5" font-weight="400" textLength="37.30" lengthAdjust="spacingAndGlyphs" stroke="#000" stroke-width="0.12">±15%</text>
<text x="555.80" y="211.90" font-size="13.5" font-weight="400" textLength="47.00" lengthAdjust="spacingAndGlyphs" stroke="#000" stroke-width="0.12">Best Fit</text>
<text x="503.90" y="233.40" font-size="13.2" font-weight="700" textLength="86.20" lengthAdjust="spacingAndGlyphs">Experimental</text>
<text x="75.00" y="301.80" font-size="15.5" font-weight="700" textLength="102.40" lengthAdjust="spacingAndGlyphs">Training -DT</text>
<rect x="74.5" y="303.90" width="102.9" height="2.2" fill="#000"/>
<text x="76.30" y="322.80" font-size="13.5" font-weight="400" textLength="95.90" lengthAdjust="spacingAndGlyphs" stroke="#000" stroke-width="0.12">y = 0.81x + 4.69</text>
<text x="96.80" y="337.30" font-size="13.5" font-weight="400" textLength="10.10" lengthAdjust="spacingAndGlyphs" stroke="#000" stroke-width="0.12">R</text>
<text x="107.50" y="334.70" font-size="7.4" font-weight="700" textLength="3.7" lengthAdjust="spacingAndGlyphs">2</text>
<text x="114.70" y="337.30" font-size="13.5" font-weight="400" textLength="35.90" lengthAdjust="spacingAndGlyphs" stroke="#000" stroke-width="0.12">= 0.81</text>
<text transform="translate(76.50,438.30) rotate(-90)" x="0" y="0" font-size="13.6" font-weight="700" textLength="56.30" lengthAdjust="spacingAndGlyphs">Predicted</text>
<line x1="174.50" y1="467.6" x2="214.20" y2="467.6" stroke="#2a2a2a" stroke-width="1.7" stroke-dasharray="6.1 5.1"/>
<line x1="175.50" y1="487.6" x2="208.00" y2="487.6" stroke="#ff0000" stroke-width="2.8" stroke-linecap="round" stroke-dasharray="10 12.5"/>
<text x="220.50" y="472.70" font-size="13.5" font-weight="400" textLength="36.90" lengthAdjust="spacingAndGlyphs" stroke="#000" stroke-width="0.12">±15%</text>
<text x="220.50" y="492.10" font-size="13.5" font-weight="400" textLength="46.40" lengthAdjust="spacingAndGlyphs" stroke="#000" stroke-width="0.12">Best Fit</text>
<text x="189.90" y="513.00" font-size="13.2" font-weight="700" textLength="84.80" lengthAdjust="spacingAndGlyphs">Experimental</text>
<text x="403.10" y="305.00" font-size="15.5" font-weight="700" textLength="118.80" lengthAdjust="spacingAndGlyphs">Validation - DT</text>
<rect x="402.6" y="306.50" width="119.29999999999995" height="2.2" fill="#000"/>
<text x="408.40" y="328.60" font-size="13.5" font-weight="400" textLength="95.60" lengthAdjust="spacingAndGlyphs" stroke="#000" stroke-width="0.12">y = 0.90x + 1.88</text>
<text x="429.40" y="343.10" font-size="13.5" font-weight="400" textLength="10.10" lengthAdjust="spacingAndGlyphs" stroke="#000" stroke-width="0.12">R</text>
<text x="440.10" y="340.50" font-size="7.4" font-weight="700" textLength="3.7" lengthAdjust="spacingAndGlyphs">2</text>
<text x="447.30" y="343.10" font-size="13.5" font-weight="400" textLength="36.50" lengthAdjust="spacingAndGlyphs" stroke="#000" stroke-width="0.12">= 0.92</text>
<text transform="translate(390.50,431.00) rotate(-90)" x="0" y="0" font-size="13.6" font-weight="700" textLength="56.30" lengthAdjust="spacingAndGlyphs">Predicted</text>
<line x1="505.60" y1="469.6" x2="545.30" y2="469.6" stroke="#2a2a2a" stroke-width="1.7" stroke-dasharray="6.1 5.1"/>
<line x1="505.90" y1="489.3" x2="538.40" y2="489.3" stroke="#ff0000" stroke-width="2.8" stroke-linecap="round" stroke-dasharray="10 12.5"/>
<text x="551.80" y="473.90" font-size="13.5" font-weight="400" textLength="37.00" lengthAdjust="spacingAndGlyphs" stroke="#000" stroke-width="0.12">±15%</text>
<text x="551.80" y="493.60" font-size="13.5" font-weight="400" textLength="46.00" lengthAdjust="spacingAndGlyphs" stroke="#000" stroke-width="0.12">Best Fit</text>
<text x="500.80" y="515.50" font-size="13.2" font-weight="700" textLength="84.70" lengthAdjust="spacingAndGlyphs">Experimental</text>
<text x="75.00" y="584.20" font-size="15.5" font-weight="700" textLength="103.20" lengthAdjust="spacingAndGlyphs">Training -DT</text>
<rect x="74.5" y="585.80" width="103.69999999999999" height="2.2" fill="#000"/>
<text x="77.60" y="601.00" font-size="13.5" font-weight="400" textLength="102.40" lengthAdjust="spacingAndGlyphs" stroke="#000" stroke-width="0.12">y = 0.78x + 53.51</text>
<text x="102.50" y="614.90" font-size="13.5" font-weight="400" textLength="10.10" lengthAdjust="spacingAndGlyphs" stroke="#000" stroke-width="0.12">R</text>
<text x="113.20" y="612.30" font-size="7.4" font-weight="700" textLength="3.7" lengthAdjust="spacingAndGlyphs">2</text>
<text x="120.40" y="614.90" font-size="13.5" font-weight="400" textLength="36.80" lengthAdjust="spacingAndGlyphs" stroke="#000" stroke-width="0.12">= 0.78</text>
<text transform="translate(76.20,709.10) rotate(-90)" x="0" y="0" font-size="13.6" font-weight="700" textLength="52.00" lengthAdjust="spacingAndGlyphs">Predicted</text>
<line x1="174.50" y1="736.2" x2="214.20" y2="736.2" stroke="#2a2a2a" stroke-width="1.7" stroke-dasharray="6.1 5.1"/>
<line x1="175.50" y1="753.9" x2="208.00" y2="753.9" stroke="#ff0000" stroke-width="2.8" stroke-linecap="round" stroke-dasharray="10 12.5"/>
<text x="221.10" y="740.20" font-size="13.5" font-weight="400" textLength="36.70" lengthAdjust="spacingAndGlyphs" stroke="#000" stroke-width="0.12">±15%</text>
<text x="221.10" y="758.00" font-size="13.5" font-weight="400" textLength="46.40" lengthAdjust="spacingAndGlyphs" stroke="#000" stroke-width="0.12">Best Fit</text>
<text x="190.90" y="777.40" font-size="13.2" font-weight="700" textLength="84.20" lengthAdjust="spacingAndGlyphs">Experimental</text>
<text x="403.10" y="586.50" font-size="15.5" font-weight="700" textLength="118.80" lengthAdjust="spacingAndGlyphs">Validation - DT</text>
<rect x="402.6" y="588.10" width="119.29999999999995" height="2.2" fill="#000"/>
<text x="402.30" y="605.90" font-size="13.5" font-weight="400" textLength="103.30" lengthAdjust="spacingAndGlyphs" stroke="#000" stroke-width="0.12">y = 0.93x + 14.02</text>
<text x="426.80" y="618.90" font-size="13.5" font-weight="400" textLength="10.10" lengthAdjust="spacingAndGlyphs" stroke="#000" stroke-width="0.12">R</text>
<text x="437.50" y="616.30" font-size="7.4" font-weight="700" textLength="3.7" lengthAdjust="spacingAndGlyphs">2</text>
<text x="444.70" y="618.90" font-size="13.5" font-weight="400" textLength="35.90" lengthAdjust="spacingAndGlyphs" stroke="#000" stroke-width="0.12">= 0.91</text>
<text transform="translate(391.20,702.40) rotate(-90)" x="0" y="0" font-size="13.6" font-weight="700" textLength="52.00" lengthAdjust="spacingAndGlyphs">Predicted</text>
<line x1="506.20" y1="737.8" x2="545.90" y2="737.8" stroke="#2a2a2a" stroke-width="1.7" stroke-dasharray="6.1 5.1"/>
<line x1="506.60" y1="755.5" x2="539.10" y2="755.5" stroke="#ff0000" stroke-width="2.8" stroke-linecap="round" stroke-dasharray="10 12.5"/>
<text x="551.80" y="741.70" font-size="13.5" font-weight="400" textLength="37.00" lengthAdjust="spacingAndGlyphs" stroke="#000" stroke-width="0.12">±15%</text>
<text x="551.80" y="759.90" font-size="13.5" font-weight="400" textLength="46.40" lengthAdjust="spacingAndGlyphs" stroke="#000" stroke-width="0.12">Best Fit</text>
<text x="500.80" y="780.00" font-size="13.2" font-weight="700" textLength="84.70" lengthAdjust="spacingAndGlyphs">Experimental</text>
<text x="647.00" y="267.20" font-size="19.5" font-weight="400" textLength="22.50" lengthAdjust="spacingAndGlyphs" stroke="#000" stroke-width="0.12">(a)</text>
<text x="641.60" y="551.00" font-size="19.5" font-weight="400" textLength="23.30" lengthAdjust="spacingAndGlyphs" stroke="#000" stroke-width="0.12">(b)</text>
<text x="643.10" y="812.30" font-size="19.5" font-weight="400" textLength="22.30" lengthAdjust="spacingAndGlyphs" stroke="#000" stroke-width="0.12">(c)</text>
<rect x="0" y="0" width="685" height="1.1" fill="#000"/>
<rect x="0" y="0" width="1.3" height="818" fill="#000"/>
<rect x="683.6" y="0" width="1.4" height="818" fill="#000"/>
<rect x="0" y="816.6" width="685" height="1.4" fill="#000"/>
<rect x="0" y="271.2" width="685" height="1.7" fill="#5c5c5c"/>
<rect x="0" y="555.4" width="685" height="1.7" fill="#3a3a3a"/>
</svg>
</body></html>
